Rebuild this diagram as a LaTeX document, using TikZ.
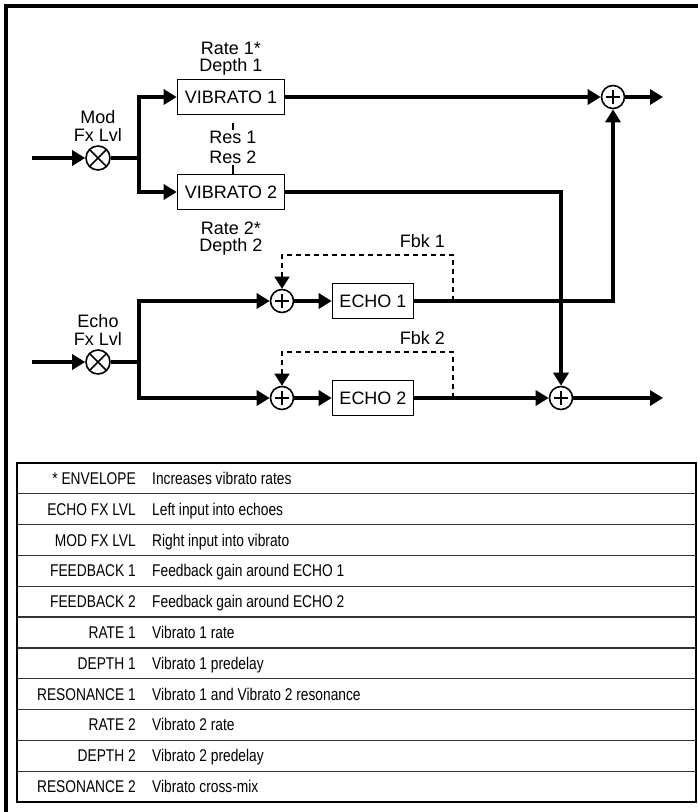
\documentclass[tikz,border=0pt]{standalone}
\usepackage{fontspec}
\setmainfont{Liberation Sans}
\newfontfamily\narrowfont[FakeStretch=0.81]{Liberation Sans}
\usetikzlibrary{arrows.meta, positioning}

\begin{document}
\begin{tikzpicture}[
		x=1pt, y=-1pt,
		blk/.style={draw, line width=1.6pt, minimum height=35pt, inner sep=0pt, font=\fontsize{18}{18}\selectfont},
		sumnode/.style={circle, draw, line width=1.6pt, minimum size=23pt, inner sep=0pt,
			path picture={\draw[line width=1.6pt] (path picture bounding box.center) +(-7pt,0) -- +(7pt,0) +(0,-7pt) -- +(0,7pt);}},
		mulnode/.style={circle, draw, line width=1.6pt, minimum size=24pt, inner sep=0pt,
			path picture={\draw[line width=1.6pt] (path picture bounding box.center) +(-8pt,-8pt) -- +(8pt,8pt) +(-8pt,8pt) -- +(8pt,-8pt);}},
		wire/.style={line width=4pt},
		sig/.style={wire, -{Triangle[length=13pt, width=15pt]}},
		fbk/.style={line width=1.6pt, dash pattern=on 5pt off 4pt, -{Triangle[length=12pt, width=15pt]}},
		tick/.style={line width=1.2pt},
		txt/.style={font=\fontsize{18}{17.5}\selectfont, align=center, inner sep=1pt},
		keytxt/.style={font=\narrowfont\fontsize{17}{17}\selectfont, anchor=base east, inner sep=0pt},
		desctxt/.style={font=\narrowfont\fontsize{17}{17}\selectfont, anchor=base west, inner sep=0pt},
		node distance=2pt
		]
		\useasboundingbox (0,0) rectangle (698,812);
		
		% frame
		\draw[line width=3.5pt] (6,812) -- (6,6) -- (698,6);
		
		% modulation half
		\coordinate (inA) at (32,158);
		\node[mulnode] (m1) at (98,158) {};
		\node[txt, above=3pt of m1] (m1lbl) {Mod\\Fx Lvl};
		\coordinate (br1) at (139,158);
		\node[blk, minimum width=107pt] (v1) at (231,97) {VIBRATO 1};
		\node[blk, minimum width=107pt] (v2) at (231,192) {VIBRATO 2};
		\node[txt, above=2pt of v1] (v1lbl) {Rate 1*\\Depth 1};
		\node[txt, below=10pt of v2] (v2lbl) {Rate 2*\\Depth 2};
		\node[txt, below=15pt of v1, xshift=2pt] (res1) {Res 1};
		\node[txt, above=9pt of v2, xshift=2pt] (res2) {Res 2};
		\node[sumnode] (s1) at (613,97) {};
		\coordinate (outA) at (663,97);
		
		% echo half
		\coordinate (inB) at (32,362);
		\node[mulnode] (m2) at (98,362) {};
		\node[txt, above=3pt of m2] (m2lbl) {Echo\\Fx Lvl};
		\coordinate (br2) at (139,362);
		\node[sumnode] (s2) at (282,301) {};
		\node[sumnode] (s3) at (282,398) {};
		\node[blk, minimum width=81pt] (e1) at (373,301) {ECHO 1};
		\node[blk, minimum width=81pt] (e2) at (373,398) {ECHO 2};
		\node[sumnode] (s4) at (561,398) {};
		\coordinate (outB) at (663,398);
		\coordinate (f1) at (453,301);
		\coordinate (fb1) at (453,255);
		\coordinate (f2) at (453,398);
		\coordinate (fb2) at (453,352);
		\node[txt, anchor=south east, xshift=-7pt, yshift=6pt] (fbk1) at (fb1) {Fbk 1};
		\node[txt, anchor=south east, xshift=-7pt, yshift=6pt] (fbk2) at (fb2) {Fbk 2};
		
		% resonance ticks
		\draw[tick] (res1.north) -- ++(0,-7);
		\draw[tick] (res2.south) -- (res2.south |- v2.north);
		
		% signal lines
		\draw[sig] (inA) -- (m1);
		\draw[wire] (m1) -- (br1);
		\draw[sig] (br1) |- (v1);
		\draw[sig] (br1) |- (v2);
		\draw[sig] (v1) -- (s1);
		\draw[sig] (s1) -- (outA);
		\draw[sig] (v2) -| (s4);
		\draw[sig] (inB) -- (m2);
		\draw[wire] (m2) -- (br2);
		\draw[sig] (br2) |- (s2);
		\draw[sig] (br2) |- (s3);
		\draw[sig] (s2) -- (e1);
		\draw[sig] (s3) -- (e2);
		\draw[sig] (e1) -| (s1);
		\draw[sig] (e2) -- (s4);
		\draw[sig] (s4) -- (outB);
		
		% feedback loops
		\draw[fbk] (f1) -- (fb1) -| (s2);
		\draw[fbk] (f2) -- (fb2) -| (s3);
		
		% parameter table
		\draw[line width=2.5pt] (17,463) rectangle (696,802);
		\foreach \i in {1,...,10}
			\draw[line width=1.3pt, black!80] (17,{463+\i*30.82}) -- (696,{463+\i*30.82});
		\foreach \k/\d [count=\i] in {* ENVELOPE/Increases vibrato rates,
				ECHO FX LVL/Left input into echoes,
				MOD FX LVL/Right input into vibrato,
				FEEDBACK 1/Feedback gain around ECHO 1,
				FEEDBACK 2/Feedback gain around ECHO 2,
				RATE 1/Vibrato 1 rate,
				DEPTH 1/Vibrato 1 predelay,
				RESONANCE 1/Vibrato 1 and Vibrato 2 resonance,
				RATE 2/Vibrato 2 rate,
				DEPTH 2/Vibrato 2 predelay,
				RESONANCE 2/Vibrato cross-mix} {
			\node[keytxt] (k\i) at (136,{463+(\i-0.5)*30.82+6}) {\k};
			\node[desctxt] (d\i) at (152,{463+(\i-0.5)*30.82+6}) {\d};
		}
		
	\end{tikzpicture}
\end{document}
